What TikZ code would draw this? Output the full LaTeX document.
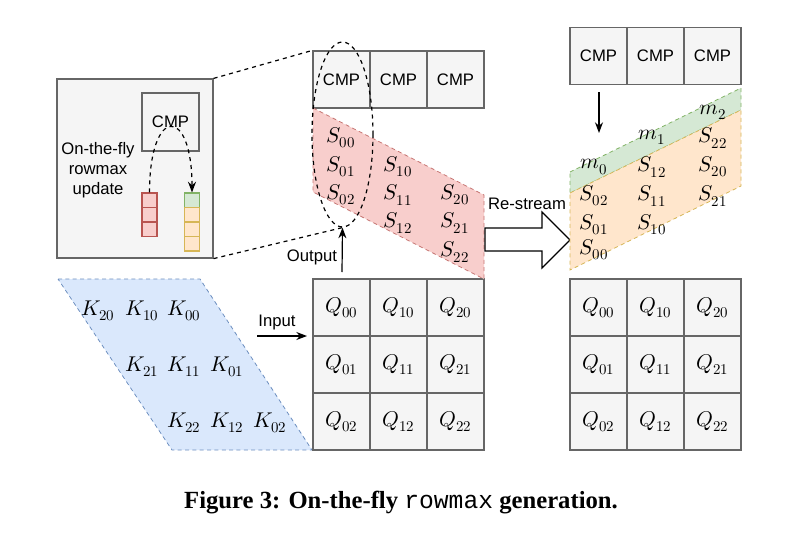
\documentclass[tikz,border=0pt]{standalone}
\usepackage{unicode-math}
\setmainfont{Liberation Serif}
\setsansfont{Liberation Sans}
\setmonofont{Liberation Mono}
\usepackage{tikz}
\usetikzlibrary{arrows.meta}
\usetikzlibrary{shapes.geometric}

\definecolor{boxfill}{HTML}{F5F5F5}
\definecolor{boxline}{HTML}{666666}
\definecolor{redfill}{HTML}{F8CECC}
\definecolor{redline}{HTML}{B85450}
\definecolor{bluefill}{HTML}{DAE8FC}
\definecolor{blueline}{HTML}{6C8EBF}
\definecolor{greenfill}{HTML}{D5E8D4}
\definecolor{greenline}{HTML}{82B366}
\definecolor{orangefill}{HTML}{FFE6CC}
\definecolor{orangeline}{HTML}{D6B656}

\tikzset{
    pe/.style={dash pattern=on 3pt off 2.5pt, line width=0.6pt},
    cell/.style={draw=boxline, fill=boxfill, line width=0.9pt, minimum width=42.75pt, minimum height=42.75pt, inner sep=0pt},
    lbl/.style={font=\sffamily\fontsize{12.5}{15}\selectfont},
    mth/.style={font=\fontsize{16}{19}\selectfont, inner sep=1pt},
    stk/.style={line width=0.8pt, minimum width=11.25pt, minimum height=10.9pt, inner sep=0pt},
}

\begin{document}
\begin{tikzpicture}[x=0.75pt, y=-0.75pt]
\useasboundingbox (0,0) rectangle (803,550);

% inset: on-the-fly update
\node[draw=boxline, fill=boxfill, line width=0.9pt, minimum width=117pt, minimum height=134.25pt] (zoom) at (135,168.5) {};
\node[cell, minimum height=43.5pt, lbl] (icmp) at (170.5,122) {CMP};
\node[lbl, align=center] (fly) at (98,170) {On-the-fly\\rowmax\\update};
\foreach \k in {0,1,2}
    \node[stk, draw=redline, fill=redfill] (ra\k) at (149.5,200.25+14.5*\k) {};
\node[stk, draw=greenline, fill=greenfill] (ga) at (192,200.25) {};
\foreach \k in {1,2,3}
    \node[stk, draw=orangeline, fill=orangefill] (oa\k) at (192,200.25+14.5*\k) {};
\draw[dashed, line width=0.9pt, -{Stealth[length=8pt, width=6pt]}] (ra0.north) .. controls +(0,-87) and +(0,-87) .. (ga.north);

% K stream
\draw[pe, draw=blueline, fill=bluefill] (58,279) -- (200,279) -- (312,450) -- (172,450) -- cycle;
\node[mth] (k20) at (98,311) {$K_{20}$};
\node[mth] (k10) at (142,311) {$K_{10}$};
\node[mth] (k00) at (184,311) {$K_{00}$};
\node[mth] (k21) at (142,367) {$K_{21}$};
\node[mth] (k11) at (184,367) {$K_{11}$};
\node[mth] (k01) at (227,367) {$K_{01}$};
\node[mth] (k22) at (184,423) {$K_{22}$};
\node[mth] (k12) at (227,423) {$K_{12}$};
\node[mth] (k02) at (270,423) {$K_{02}$};

% Q grids
\foreach \i in {0,1,2}
    \foreach \j in {0,1,2} {
        \node[cell, mth] (qa\i\j) at (341.5+57*\i,307.5+57*\j) {$Q_{\i\j}$};
        \node[cell, mth] (qb\i\j) at (598.5+57*\i,307.5+57*\j) {$Q_{\i\j}$};
    }
\coordinate (inS) at (257,336);
\coordinate (inE) at (307,336);
\draw[line width=0.9pt, -{Stealth[length=8pt, width=6pt]}] (inS) -- (inE);
\node[lbl] (input) at (277,322) {Input};

% CMP rows
\foreach \i in {0,1,2} {
    \node[cell, lbl] (ca\i) at (341.5+57*\i,79.5) {CMP};
    \node[cell, lbl] (cb\i) at (598.5+57*\i,56) {CMP};
}

% S output
\draw[pe, draw=redline!80, fill=redfill] (313,108) -- (484,195) -- (484,279) -- (313,192) -- cycle;
\node[mth] (s00) at (341,138) {$S_{00}$};
\node[mth] (s01) at (341,167) {$S_{01}$};
\node[mth] (s02) at (341,195) {$S_{02}$};
\node[mth] (s10) at (398,167) {$S_{10}$};
\node[mth] (s11) at (398,195) {$S_{11}$};
\node[mth] (s12) at (398,223) {$S_{12}$};
\node[mth] (s20) at (455,195) {$S_{20}$};
\node[mth] (s21) at (455,223) {$S_{21}$};
\node[mth] (s22) at (455,252) {$S_{22}$};

\node[ellipse, draw, dashed, line width=0.9pt, minimum width=45.75pt, minimum height=138.75pt, inner sep=0pt] (ell) at (342.5,134.5) {};
\draw[dashed, line width=0.9pt] (zoom.north east) -- (ca0.north west);
\draw[dashed, line width=0.9pt] (zoom.south east) -- (ell.south);
\coordinate (outS) at (342,272);
\draw[line width=0.9pt, -{Stealth[length=8pt, width=6pt]}] (outS) -- (ell.south);
\node[lbl] (output) at (312,257) {Output};

% re-stream
\draw[line width=0.9pt, fill=white] (485,228) -- (542,228) -- (542,212) -- (570,240) -- (542,268) -- (542,251) -- (485,251) -- cycle;
\node[lbl] (restream) at (527,204) {Re-stream};

% restreamed S with rowmax
\draw[pe, draw=greenline, fill=greenfill] (570,172) -- (741,88) -- (741,110) -- (570,193) -- cycle;
\draw[pe, draw=orangeline, fill=orangefill] (570,193) -- (741,110) -- (741,186) -- (570,270) -- cycle;
\node[mth] (m0) at (594,167) {$m_0$};
\node[mth] (m1) at (652,137) {$m_1$};
\node[mth] (m2) at (713,112) {$m_2$};
\node[mth] (t02) at (594,196) {$S_{02}$};
\node[mth] (t01) at (594,225) {$S_{01}$};
\node[mth] (t00) at (594,250) {$S_{00}$};
\node[mth] (t12) at (652,167) {$S_{12}$};
\node[mth] (t11) at (652,196) {$S_{11}$};
\node[mth] (t10) at (652,225) {$S_{10}$};
\node[mth] (t22) at (713,138) {$S_{22}$};
\node[mth] (t20) at (713,167) {$S_{20}$};
\node[mth] (t21) at (713,196) {$S_{21}$};
\coordinate (dnS) at (599,92);
\coordinate (dnE) at (599,133);
\draw[line width=0.9pt, -{Stealth[length=8pt, width=6pt]}] (dnS) -- (dnE);

% caption
\node[font=\bfseries\fontsize{18.5}{22}\selectfont] (cap) at (401,503) {Figure 3: On-the-fly {\mdseries\ttfamily rowmax} generation.};
\end{tikzpicture}
\end{document}
